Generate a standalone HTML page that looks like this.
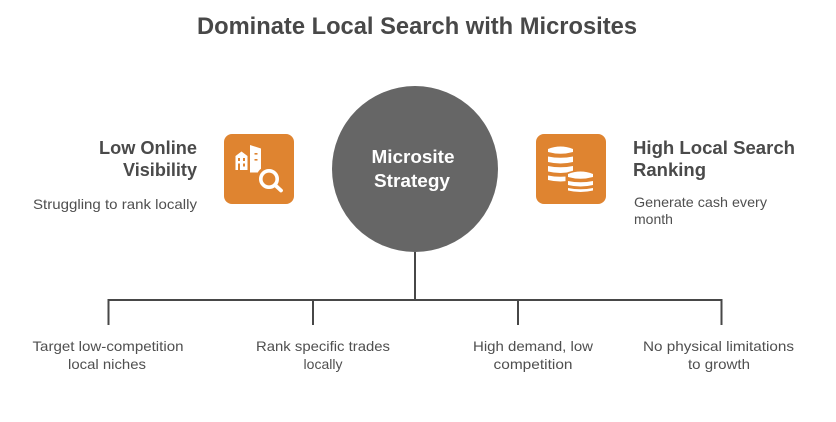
<!DOCTYPE html>
<html>
<head>
<meta charset="utf-8">
<style>
  html, body { margin: 0; padding: 0; background: #ffffff; }
  body { width: 836px; height: 422px; overflow: hidden; }
  svg { display: block; }
  text { font-family: "Liberation Sans", Arial, sans-serif; }
</style>
</head>
<body>
<svg width="836" height="422" viewBox="0 0 836 422" xmlns="http://www.w3.org/2000/svg">
  <rect width="836" height="422" fill="#ffffff"/>

  <!-- Title -->
  <text x="417" y="34" font-size="24" font-weight="bold" fill="#484848" text-anchor="middle" textLength="440" lengthAdjust="spacingAndGlyphs">Dominate Local Search with Microsites</text>

  <!-- Connectors -->
  <g stroke="#474747" stroke-width="2" fill="none">
    <line x1="415" y1="252" x2="415" y2="300"/>
    <line x1="107.5" y1="300" x2="722.5" y2="300"/>
    <line x1="108.5" y1="299" x2="108.5" y2="325"/>
    <line x1="313" y1="299" x2="313" y2="325"/>
    <line x1="518" y1="299" x2="518" y2="325"/>
    <line x1="721.5" y1="299" x2="721.5" y2="325"/>
  </g>

  <!-- Central circle -->
  <circle cx="415" cy="169" r="83" fill="#666666"/>
  <text x="413" y="163" font-size="18" font-weight="bold" fill="#ffffff" text-anchor="middle" textLength="83" lengthAdjust="spacingAndGlyphs">Microsite</text>
  <text x="412" y="187" font-size="18" font-weight="bold" fill="#ffffff" text-anchor="middle" textLength="76" lengthAdjust="spacingAndGlyphs">Strategy</text>

  <!-- Left icon box -->
  <g transform="translate(224,134)">
    <rect x="0" y="0" width="70" height="70" rx="8" fill="#DF8430"/>
    <!-- house-like building -->
    <path d="M11.5 22 L17.5 17.5 L23.5 22 L23.5 36 L11.5 36 Z" fill="#ffffff"/>
    <rect x="14" y="24" width="2" height="3" fill="#DF8430"/>
    <rect x="19" y="24" width="2" height="3" fill="#DF8430"/>
    <rect x="14" y="29.5" width="2" height="6.5" fill="#DF8430"/>
    <rect x="19" y="29.5" width="2" height="3" fill="#DF8430"/>
    <!-- tall building -->
    <path d="M26 11 L37 14.5 L37 38.5 L26 38.5 Z" fill="#ffffff"/>
    <rect x="30.5" y="19" width="3" height="1.6" fill="#DF8430"/>
    <rect x="30.5" y="25" width="3" height="1.6" fill="#DF8430"/>
    <!-- magnifier -->
    <circle cx="45" cy="45" r="13" fill="#DF8430"/>
    <circle cx="45" cy="45" r="8.2" fill="none" stroke="#ffffff" stroke-width="3.6"/>
    <line x1="51" y1="51" x2="57" y2="56.5" stroke="#ffffff" stroke-width="3.8" stroke-linecap="round"/>
  </g>

  <!-- Right icon box (coins) -->
  <g transform="translate(536,134)">
    <rect x="0" y="0" width="70" height="70" rx="8" fill="#DF8430"/>
    <!-- stack 1 -->
    <g fill="#ffffff">
      <path d="M12 15 Q24.5 10 37 15 L37 18 Q24.5 21.5 12 18 Z"/>
      <path d="M12 22.5 Q24.5 25 37 22.5 L37 28 Q24.5 31 12 28 Z"/>
      <path d="M12 32 Q24.5 34.5 37 32 L37 37.5 Q24.5 40.5 12 37.5 Z"/>
      <path d="M12 41.5 Q24.5 44 37 41.5 L37 46 Q24.5 49 12 46 Z"/>
    </g>
    <!-- stack 2 with orange outline gap -->
    <path d="M29.5 39 Q44.5 33 59.5 39 L59.5 61 L29.5 61 Z" fill="#DF8430"/>
    <g fill="#ffffff">
      <path d="M32 40 Q44.5 35 57 40 L57 43 Q44.5 46.5 32 43 Z"/>
      <path d="M32 47 Q44.5 49.5 57 47 L57 51 Q44.5 54 32 51 Z"/>
      <path d="M32 54 Q44.5 56.5 57 54 L57 56.5 Q44.5 59.5 32 56.5 Z"/>
    </g>
  </g>

  <!-- Left labels -->
  <text x="197" y="154" font-size="18" font-weight="bold" fill="#4a4a4a" text-anchor="end" textLength="98" lengthAdjust="spacingAndGlyphs">Low Online</text>
  <text x="197" y="176" font-size="18" font-weight="bold" fill="#4a4a4a" text-anchor="end" textLength="74" lengthAdjust="spacingAndGlyphs">Visibility</text>
  <text x="197" y="209" font-size="14" fill="#4f4f4f" text-anchor="end" textLength="164" lengthAdjust="spacingAndGlyphs">Struggling to rank locally</text>

  <!-- Right labels -->
  <text x="633" y="154" font-size="18" font-weight="bold" fill="#4a4a4a" textLength="162" lengthAdjust="spacingAndGlyphs">High Local Search</text>
  <text x="633" y="176" font-size="18" font-weight="bold" fill="#4a4a4a" textLength="73" lengthAdjust="spacingAndGlyphs">Ranking</text>
  <text x="634" y="207" font-size="14" fill="#4f4f4f" textLength="133" lengthAdjust="spacingAndGlyphs">Generate cash every</text>
  <text x="634" y="224" font-size="14" fill="#4f4f4f">month</text>

  <!-- Bottom labels -->
  <g font-size="14" fill="#4f4f4f" text-anchor="middle">
    <text x="108" y="351" textLength="151" lengthAdjust="spacingAndGlyphs">Target low-competition</text>
    <text x="107" y="369" textLength="78" lengthAdjust="spacingAndGlyphs">local niches</text>

    <text x="323" y="351" textLength="134" lengthAdjust="spacingAndGlyphs">Rank specific trades</text>
    <text x="323" y="369">locally</text>

    <text x="533" y="351" textLength="120" lengthAdjust="spacingAndGlyphs">High demand, low</text>
    <text x="533" y="369" textLength="79" lengthAdjust="spacingAndGlyphs">competition</text>

    <text x="718.5" y="351" textLength="151" lengthAdjust="spacingAndGlyphs">No physical limitations</text>
    <text x="719" y="369" textLength="62" lengthAdjust="spacingAndGlyphs">to growth</text>
  </g>
</svg>
</body>
</html>
